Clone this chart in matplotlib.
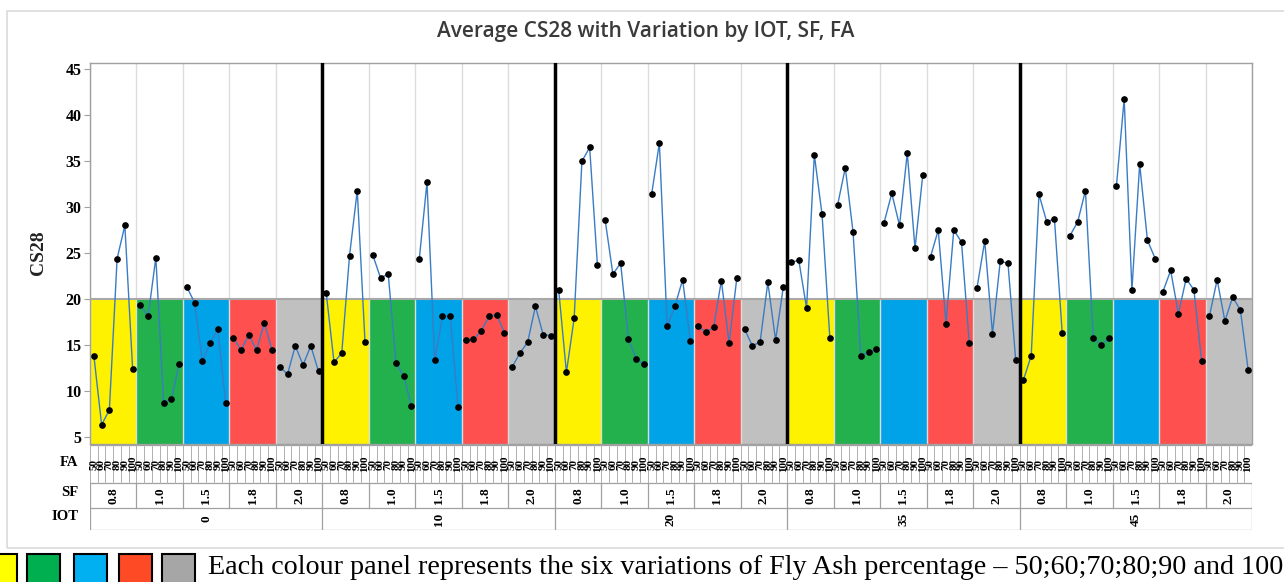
import matplotlib
matplotlib.use("Agg")
import matplotlib.pyplot as plt
from matplotlib.patches import Rectangle
import numpy as np

# levels of the three factors
iot_levels = ["0", "10", "20", "35", "45"]
sf_levels = ["0.8", "1.0", "1.5", "1.8", "2.0"]
fa_levels = ["50", "60", "70", "80", "90", "100"]

# mean CS28 per IOT group, ordered SF then FA
cs28_iot0 = [13.8, 6.3, 7.9, 24.4, 28.0, 12.4,
             19.3, 18.1, 24.5, 8.7, 9.1, 12.9,
             21.3, 19.6, 13.2, 15.2, 16.7, 8.7,
             15.8, 14.4, 16.1, 14.4, 17.4, 14.4,
             12.6, 11.8, 14.9, 12.8, 14.9, 12.1]
cs28_iot10 = [20.6, 13.1, 14.1, 24.7, 31.8, 15.3,
              24.8, 22.3, 22.7, 13.0, 11.6, 8.3,
              24.3, 32.7, 13.3, 18.1, 18.1, 8.2,
              15.5, 15.6, 16.5, 18.1, 18.3, 16.3,
              12.6, 14.1, 15.3, 19.2, 16.1, 16.0]
cs28_iot20 = [21.0, 12.0, 17.9, 35.0, 36.5, 23.7,
              28.6, 22.7, 23.9, 15.6, 13.5, 12.9,
              31.4, 37.0, 17.0, 19.2, 22.1, 15.4,
              17.0, 16.4, 16.9, 22.0, 15.2, 22.3,
              16.7, 14.9, 15.3, 21.8, 15.5, 21.3]
cs28_iot35 = [24.0, 24.2, 19.0, 35.7, 29.2, 15.8,
              30.2, 34.3, 27.3, 13.8, 14.2, 14.5,
              28.3, 31.5, 28.0, 35.9, 25.5, 33.5,
              24.6, 27.5, 17.3, 27.5, 26.2, 15.2,
              21.2, 26.3, 16.2, 24.1, 23.9, 13.3]
cs28_iot45 = [11.2, 13.8, 31.4, 28.4, 28.7, 16.3,
              26.9, 28.4, 31.8, 15.8, 15.0, 15.7,
              32.3, 41.8, 21.0, 34.7, 26.4, 24.4,
              20.8, 23.1, 18.4, 22.2, 21.0, 13.2,
              18.1, 22.1, 17.6, 20.2, 18.8, 12.3]
cs28 = [cs28_iot0, cs28_iot10, cs28_iot20, cs28_iot35, cs28_iot45]

panel_colors = ["#FFF200", "#22B14C", "#00A2E8", "#FF5050", "#C0C0C0"]
key_colors = ["#FFFF00", "#00B050", "#00B0F0", "#FF4B25", "#A6A6A6"]
serif = "Liberation Serif"

W, H = 1284, 582
fig = plt.figure(figsize=(W / 100, H / 100), dpi=100)

def px(x0, y0, x1, y1):
    # pixel box (top-left origin) -> figure fraction rect
    return [x0 / W, 1 - y1 / H, (x1 - x0) / W, (y1 - y0) / H]

n_fa, n_sf, n_iot = len(fa_levels), len(sf_levels), len(iot_levels)
per_iot = n_fa * n_sf
n_all = per_iot * n_iot
ymin, ymax, band_top = 4.2, 45.7, 20

ax = fig.add_axes(px(90, 63, 1252, 444))
ax.set_xlim(0, n_all)
ax.set_ylim(ymin, ymax)

for g in range(n_iot):
    for s in range(n_sf):
        x0 = g * per_iot + s * n_fa
        ax.add_patch(Rectangle((x0, ymin), n_fa, band_top - ymin,
                               facecolor=panel_colors[s], edgecolor="none", zorder=1))
        xs = np.arange(n_fa) + x0 + 0.5
        ys = cs28[g][s * n_fa:(s + 1) * n_fa]
        ax.plot(xs, ys, color="#3A7CC4", lw=1.0, marker="o", ms=3.8,
                mfc="black", mec="black", zorder=5)

for x in range(0, n_all + 1, n_fa):
    ax.axvline(x, color="#DCDCDC", lw=1.0, zorder=2)
ax.axhline(band_top, color="#A8A8A8", lw=1.5, zorder=3)
for x in range(per_iot, n_all, per_iot):
    ax.axvline(x, color="black", lw=2.5, zorder=4)

ax.set_xticks([])
ax.set_yticks(np.arange(5, 46, 5))
ax.tick_params(axis="y", length=4, color="#A0A0A0", pad=2)
for lbl in ax.get_yticklabels():
    lbl.set_fontfamily(serif)
    lbl.set_fontweight("bold")
    lbl.set_fontsize(11.5)
for sp in ax.spines.values():
    sp.set_color("#A0A0A0")
    sp.set_linewidth(1.0)

fig.text(39 / W, 1 - 253 / H, "CS28", rotation=90, ha="center", va="center",
         fontsize=14, color="#222222", family=serif, fontweight="bold")
fig.text(646 / W, 1 - 31 / H, "Average CS28 with Variation by IOT, SF, FA",
         ha="center", va="center", fontsize=15, color="#3A3A3A",
         family="Open Sans", fontweight="semibold")

# factor table under the axis
tb = fig.add_axes(px(90, 445, 1252, 530))
tb.set_xlim(0, n_all)
tb.set_ylim(0, 85)
tb.axis("off")
y_iot, y_sf, y_fa, y_top = 0, 22, 47, 85
grid = dict(color="#A0A0A0", lw=0.9)
for yy in (y_iot, y_sf, y_fa, y_top):
    tb.plot([0, n_all], [yy, yy], **grid)
for x in range(n_all + 1):
    tb.plot([x, x], [y_fa, y_top], color="#B0B0B0", lw=0.7)
for x in range(0, n_all + 1, n_fa):
    tb.plot([x, x], [y_sf, y_fa], **grid)
for x in range(0, n_all + 1, per_iot):
    tb.plot([x, x], [y_iot, y_sf], **grid)

for i in range(n_all):
    tb.text(i + 0.5, (y_fa + y_top) / 2, fa_levels[i % n_fa], rotation=90,
            ha="center", va="center", fontsize=8, family=serif,
            fontweight="bold", clip_on=False)
for j in range(n_sf * n_iot):
    tb.text(j * n_fa + n_fa / 2, (y_sf + y_fa) / 2, sf_levels[j % n_sf],
            rotation=90, ha="center", va="center", fontsize=9.5,
            family=serif, fontweight="bold")
for g in range(n_iot):
    tb.text(g * per_iot + per_iot / 2, (y_iot + y_sf) / 2, iot_levels[g],
            rotation=90, ha="center", va="center", fontsize=9.5,
            family=serif, fontweight="bold")

for name, yc in (("FA", 462), ("SF", 492), ("IOT", 517)):
    fig.text(78 / W, 1 - yc / H, name, ha="right", va="center", fontsize=10.5,
             family=serif, fontweight="bold")

# outer frame of the chart
fig.patches.append(Rectangle((7 / W, 1 - 548 / H), 1.05, (548 - 11) / H,
                             transform=fig.transFigure, fill=False,
                             edgecolor="#DADADA", lw=1.2))

# colour key
for k, x0 in enumerate([-16, 27, 74, 119, 162]):
    fig.patches.append(Rectangle((x0 / W, 1 - 587 / H), 33 / W, 33 / H,
                                 transform=fig.transFigure, facecolor=key_colors[k],
                                 edgecolor="black", lw=1.5))
fig.text(208 / W, 1 - 567 / H,
         "Each colour panel represents the six variations of Fly Ash percentage \u2013 50;60;70;80;90 and 100",
         ha="left", va="center", fontsize=20.25, family=serif)

fig.savefig("out.png", dpi=100)
